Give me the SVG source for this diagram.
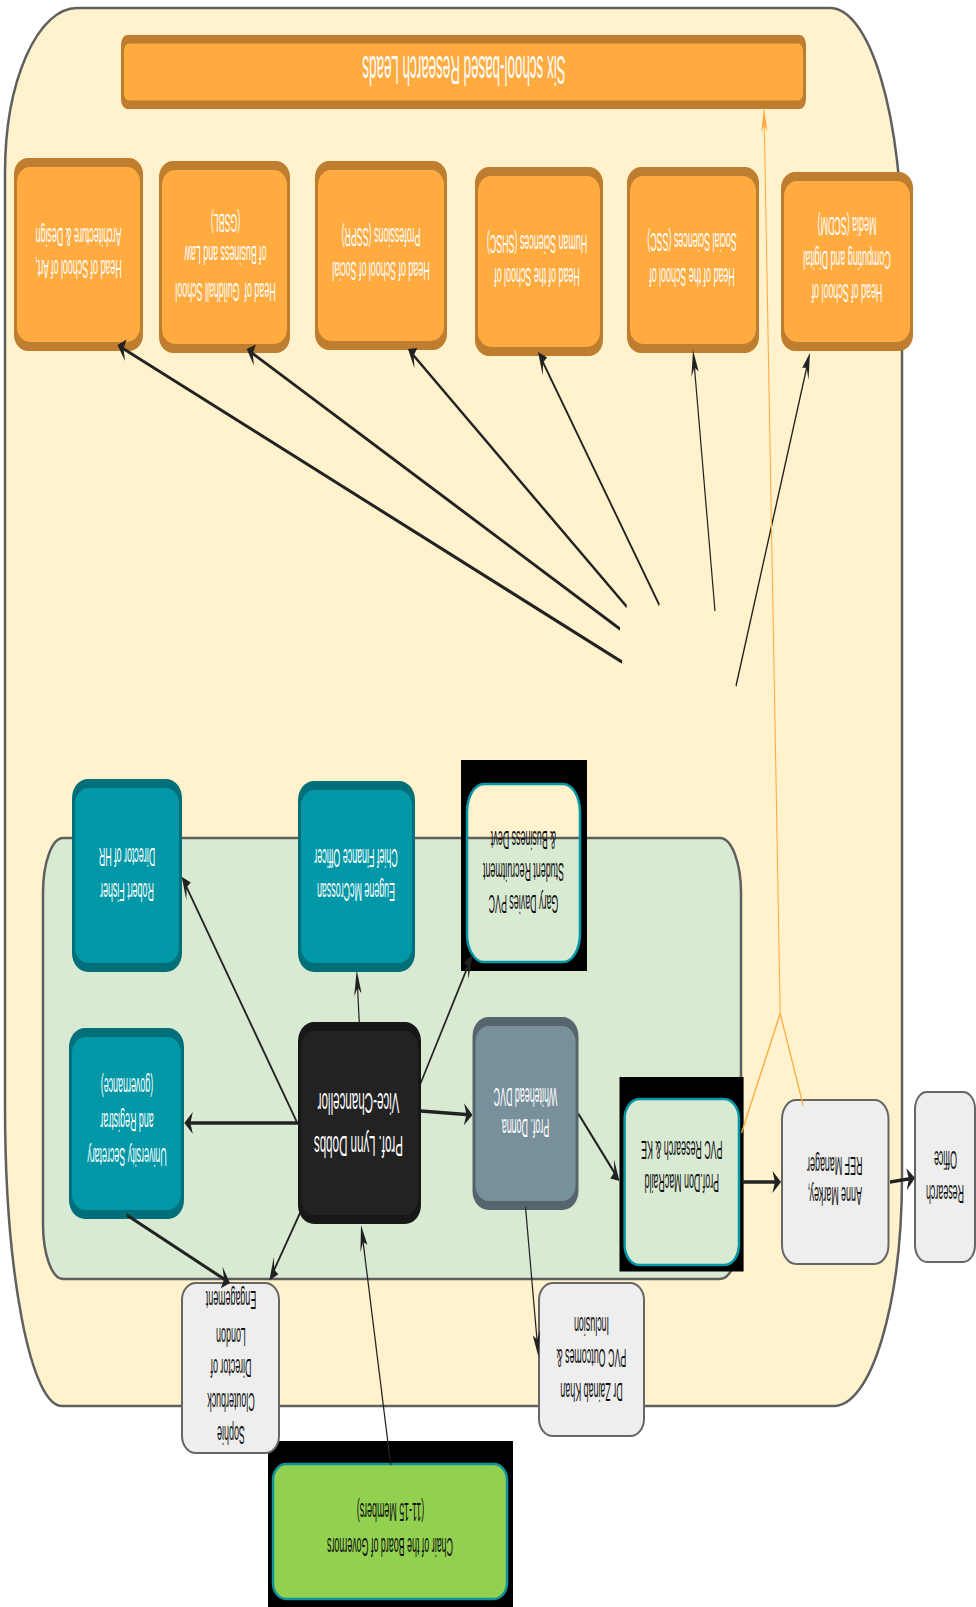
<svg xmlns="http://www.w3.org/2000/svg" width="976" height="1607" viewBox="0 0 976 1607">
<defs>
<style>
.t{font-family:"Liberation Sans",Arial,sans-serif;font-size:26px;text-anchor:middle;dominant-baseline:central}
.big{font-size:40px}
.vc{font-size:29px}
.w{fill:#ffffff}
.k{fill:#111111}
.bo{fill:#BF7E2F}.io{fill:#FFAB40}
.bt{fill:#006F7A}.it{fill:#0097A7}
.bv{fill:#171717}.iv{fill:#222222}
.bd{fill:#56646E}.id{fill:#78909C}
.gray{fill:#EEEEEE;stroke:#666666;stroke-width:2}
.frame{fill:#000000;fill-rule:evenodd}
.hole{fill:none;stroke:#0097A7;stroke-width:2.5}
.con{fill:none;stroke:#222222;stroke-width:3.5;marker-end:url(#ah)}
.ocon{fill:none;stroke:#FFA940;stroke-width:3}
</style>
<marker id="ah" markerUnits="userSpaceOnUse" orient="auto" overflow="visible" markerWidth="30" markerHeight="30" refX="0" refY="0"><path d="M10,0 L-15,-11 L-8,0 L-15,11 Z" fill="#222222"/></marker>
<marker id="aho" markerUnits="userSpaceOnUse" orient="auto" overflow="visible" markerWidth="30" markerHeight="30" refX="0" refY="0"><path d="M10,0 L-15,-9 L-8,0 L-15,9 Z" fill="#FFA940"/></marker>
</defs>

<g id="outer-container">
<path d="M77,8 L830,8 A72,240 0 0 1 902,248 L902,1176 A68,230 0 0 1 834,1406 L62,1406 A57,300 0 0 1 5,1106 L5,173 A72,165 0 0 1 77,8 Z" fill="#FFF2CC" stroke="#5F5F5F" stroke-width="2.5"/>
</g>
<g id="inner-container">
<path d="M63,838 L720,838 A21,55 0 0 1 741,893 L741,1224 A21,55 0 0 1 720,1279 L63,1279 A20,55 0 0 1 43,1224 L43,893 A20,55 0 0 1 63,838 Z" fill="#D9EAD3" stroke="#5F5F5F" stroke-width="2.5"/>
</g>

<g id="research-leads">
<rect x="121" y="35" width="685" height="74" rx="6" ry="10" class="bo"/>
<rect x="124" y="43.5" width="679" height="57" rx="5" ry="8" class="io"/>
<text class="t big w" transform="translate(464,70) rotate(180) scale(0.335,1)">Six school-based Research Leads</text>
</g>

<g id="head-art">
<rect x="14" y="158" width="129" height="193" rx="14" ry="16" class="bo"/>
<rect x="17" y="167" width="123" height="175" rx="13" ry="15" class="io"/>
<text class="t w" transform="translate(78.5,269) rotate(180) scale(0.342,1)">Head of School of Art,</text>
<text class="t w" transform="translate(78.5,237) rotate(180) scale(0.342,1)">Architecture &amp; Design</text>
</g>
<g id="head-gsbl">
<rect x="159" y="161" width="131" height="192" rx="14" ry="16" class="bo"/>
<rect x="162" y="170" width="125" height="174" rx="13" ry="15" class="io"/>
<text class="t w" style="white-space:pre" transform="translate(225.5,292) rotate(180) scale(0.342,1)">Head of  Guildhall School</text>
<text class="t w" transform="translate(225.5,255) rotate(180) scale(0.342,1)">of Business and Law</text>
<text class="t w" transform="translate(225.5,223) rotate(180) scale(0.342,1)">(GSBL)</text>
</g>
<g id="head-sspr">
<rect x="315" y="161" width="132" height="189" rx="14" ry="16" class="bo"/>
<rect x="318" y="170" width="126" height="171" rx="13" ry="15" class="io"/>
<text class="t w" transform="translate(381,271) rotate(180) scale(0.342,1)">Head of School of Social</text>
<text class="t w" transform="translate(381,237) rotate(180) scale(0.342,1)">Professions (SSPR)</text>
</g>
<g id="head-shsc">
<rect x="475" y="167" width="128" height="189" rx="14" ry="16" class="bo"/>
<rect x="478" y="176" width="122" height="171" rx="13" ry="15" class="io"/>
<text class="t w" transform="translate(537,277) rotate(180) scale(0.342,1)">Head of the School of</text>
<text class="t w" transform="translate(537,244) rotate(180) scale(0.342,1)">Human Sciences (SHSC)</text>
</g>
<g id="head-ssc">
<rect x="627" y="167" width="132" height="186" rx="14" ry="16" class="bo"/>
<rect x="630" y="176" width="126" height="168" rx="13" ry="15" class="io"/>
<text class="t w" transform="translate(692,277) rotate(180) scale(0.342,1)">Head of the School of</text>
<text class="t w" transform="translate(692,242) rotate(180) scale(0.342,1)">Social Sciences (SSC)</text>
</g>
<g id="head-scdm">
<rect x="781" y="172" width="132" height="179" rx="14" ry="16" class="bo"/>
<rect x="784" y="181" width="126" height="161" rx="13" ry="15" class="io"/>
<text class="t w" transform="translate(847,293) rotate(180) scale(0.342,1)">Head of School of</text>
<text class="t w" transform="translate(847,260) rotate(180) scale(0.342,1)">Computing and Digital</text>
<text class="t w" transform="translate(847,226) rotate(180) scale(0.342,1)">Media (SCDM)</text>
</g>

<g id="director-hr">
<rect x="72" y="779" width="110" height="193" rx="16" ry="19" class="bt"/>
<rect x="75" y="788" width="104" height="175" rx="13" ry="16" class="it"/>
<text class="t w" transform="translate(127,892) rotate(180) scale(0.342,1)">Robert Fisher</text>
<text class="t w" transform="translate(127,857.5) rotate(180) scale(0.342,1)">Director of HR</text>
</g>
<g id="cfo">
<rect x="298" y="781" width="117" height="191" rx="16" ry="19" class="bt"/>
<rect x="301" y="790" width="111" height="173" rx="13" ry="16" class="it"/>
<text class="t w" transform="translate(356,892) rotate(180) scale(0.342,1)">Eugene McCrossan</text>
<text class="t w" transform="translate(356,858) rotate(180) scale(0.342,1)">Chief Finance Officer</text>
</g>
<g id="university-secretary">
<rect x="69" y="1028" width="115" height="191" rx="16" ry="19" class="bt"/>
<rect x="72" y="1037" width="109" height="173" rx="13" ry="16" class="it"/>
<text class="t w" transform="translate(127,1157) rotate(180) scale(0.342,1)">University Secretary</text>
<text class="t w" transform="translate(127,1122) rotate(180) scale(0.342,1)">and Registrar</text>
<text class="t w" transform="translate(127,1087.5) rotate(180) scale(0.342,1)">(governance)</text>
</g>
<g id="vice-chancellor">
<rect x="298" y="1022" width="123" height="202" rx="16" ry="19" class="bv"/>
<rect x="301" y="1031" width="117" height="184" rx="13" ry="16" class="iv"/>
<text class="t vc w" transform="translate(358.5,1145.5) rotate(180) scale(0.40,1)">Prof. Lynn Dobbs</text>
<text class="t vc w" transform="translate(358.5,1103) rotate(180) scale(0.40,1)">Vice-Chancellor</text>
</g>
<g id="dvc">
<rect x="472.5" y="1017" width="106" height="193" rx="16" ry="19" class="bd"/>
<rect x="475.5" y="1026" width="100" height="175" rx="13" ry="16" class="id"/>
<text class="t w" transform="translate(525.5,1128.5) rotate(180) scale(0.342,1)">Prof. Donna</text>
<text class="t w" transform="translate(525.5,1097) rotate(180) scale(0.342,1)">Whitehead DVC</text>
</g>
<g id="pvc-recruitment">
<path class="frame" d="M461,760 H587 V971 H461 Z M484,784 H563 A17,28 0 0 1 580,812 V934 A17,28 0 0 1 563,962 H484 A17,28 0 0 1 467,934 V812 A17,28 0 0 1 484,784 Z"/>
<rect x="467" y="784" width="113" height="178" rx="17" ry="28" class="hole"/>
<text class="t k" transform="translate(523.5,904) rotate(180) scale(0.342,1)">Gary Davies PVC</text>
<text class="t k" transform="translate(523.5,872.5) rotate(180) scale(0.342,1)">Student Recruitment</text>
<text class="t k" transform="translate(523.5,840) rotate(180) scale(0.342,1)">&amp; Business Devt</text>
</g>
<g id="pvc-research">
<path class="frame" d="M619.5,1077 H743.6 V1271.6 H619.5 Z M639.6,1099 H724 A15,20 0 0 1 739,1119 V1245 A15,20 0 0 1 724,1265 H639.6 A15,20 0 0 1 624.6,1245 V1119 A15,20 0 0 1 639.6,1099 Z"/>
<rect x="624.6" y="1099" width="114.4" height="166" rx="15" ry="20" class="hole"/>
<text class="t k" transform="translate(681.8,1183) rotate(180) scale(0.342,1)">Prof.Don MacRaild</text>
<text class="t k" transform="translate(681.8,1150) rotate(180) scale(0.342,1)">PVC Research &amp; KE</text>
</g>
<g id="ref-manager">
<rect x="782" y="1100" width="106.5" height="164" rx="14" ry="19" class="gray"/>
<text class="t k" transform="translate(834.8,1196) rotate(180) scale(0.342,1)">Anne Markey,</text>
<text class="t k" transform="translate(834.8,1166) rotate(180) scale(0.342,1)">REF Manager</text>
</g>
<g id="research-office">
<rect x="915" y="1092" width="60" height="170" rx="12" ry="17" class="gray"/>
<text class="t k" transform="translate(945,1194) rotate(180) scale(0.342,1)">Research</text>
<text class="t k" transform="translate(945.5,1160) rotate(180) scale(0.342,1)">Office</text>
</g>
<g id="pvc-outcomes">
<rect x="539" y="1283" width="105" height="153" rx="14" ry="17" class="gray"/>
<text class="t k" transform="translate(591.5,1392) rotate(180) scale(0.342,1)">Dr Zainab Khan</text>
<text class="t k" transform="translate(591.5,1358.5) rotate(180) scale(0.342,1)">PVC Outcomes &amp;</text>
<text class="t k" transform="translate(591.5,1326.5) rotate(180) scale(0.342,1)">Inclusion</text>
</g>
<g id="chair-governors">
<rect x="268" y="1441" width="245" height="166" fill="#000000"/>
<rect x="273" y="1464" width="234" height="135" rx="13" ry="16" fill="#92D050" stroke="#0E939C" stroke-width="2.5"/>
<text class="t k" transform="translate(390,1547) rotate(180) scale(0.342,1)">Chair of the Board of Governors</text>
<text class="t k" transform="translate(390.5,1512.5) rotate(180) scale(0.342,1)">(11-15 Members)</text>
</g>
<g id="london-engagement">
<rect x="182" y="1283" width="97" height="170" rx="14" ry="17" class="gray"/>
<text class="t k" transform="translate(231,1435) rotate(180) scale(0.342,1)">Sophie</text>
<text class="t k" transform="translate(231,1402) rotate(180) scale(0.342,1)">Clouterbuck</text>
<text class="t k" transform="translate(231,1368) rotate(180) scale(0.342,1)">Director of</text>
<text class="t k" transform="translate(231,1337) rotate(180) scale(0.342,1)">London</text>
<text class="t k" transform="translate(231,1300) rotate(180) scale(0.342,1)">Engagement</text>
</g>

<g id="connectors" transform="scale(0.34,1)">
<path class="con" d="M872.6,1121.7 L542.5,882.6"/>
<path class="con" d="M876.5,1123 L552.1,1123"/>
<path class="con" d="M1056.8,1023.3 L1050.5,979.9"/>
<path class="con" d="M1237.4,1083 L1382.0,961.4"/>
<path class="con" d="M1238.2,1111 L1379.7,1114.7"/>
<path class="con" d="M882.4,1213 L800.1,1274.5"/>
<path class="con" d="M372.6,1215 L666.7,1280.8"/>
<path class="con" d="M1149.1,1465 L1065.2,1234.4"/>
<path class="con" d="M1701.5,1114 L1813.4,1176.1"/>
<path class="con" d="M1545.6,1207 L1581.3,1347.3"/>
<path class="con" d="M2182.4,1182 L2287.1,1182"/>
<path class="con" d="M2617.6,1182 L2681.2,1178.5"/>
<path class="con" d="M1829.4,662 L355.4,347.1"/>
<path class="con" d="M1823.5,629 L735.3,351.5"/>
<path class="con" d="M1843.2,606.7 L1209.3,352.7"/>
<path class="con" d="M1939.1,605 L1590.6,357.8"/>
<path class="con" d="M2102.9,611 L2040.6,359.7"/>
<path class="con" d="M2164.7,686 L2376.9,361.1"/>
<path class="ocon" d="M2180.9,1133 L2294.7,1013.5 L2247.5,117" marker-end="url(#aho)"/>
<path class="ocon" d="M2361.8,1105 L2294.7,1013.5"/>
</g>
</svg>
